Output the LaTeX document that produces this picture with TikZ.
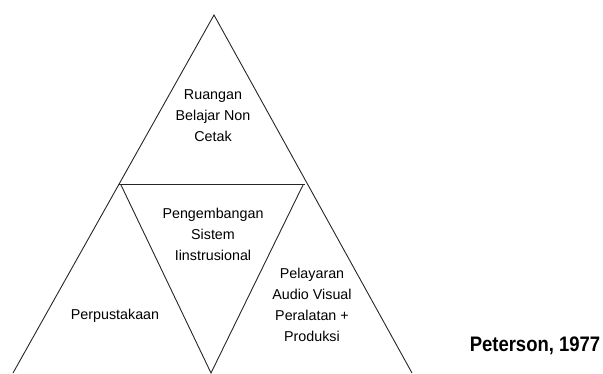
\documentclass[tikz,border=0pt]{standalone}
\usepackage{fontspec}
\setmainfont{Liberation Sans}
\newfontfamily\narrowfont[FakeStretch=0.88]{Liberation Sans}
\usepackage{tikz}
\tikzset{%
  edge/.style   = {draw=black!85, line width=0.9pt},%
  area/.style   = {align=center, inner sep=0pt,%
                   font=\fontsize{14.3}{21}\selectfont},%
  source/.style = {inner sep=0pt, font=\narrowfont\fontsize{21}{22}\selectfont\bfseries}%
}
\begin{document}
\begin{tikzpicture}[x=1pt,y=-1pt]
	\useasboundingbox (0,0) rectangle (603,374);
	% corners
	\coordinate (apex) at (214,15);
	\coordinate (bl) at (13,373);
	\coordinate (bm) at (211,373);
	\coordinate (br) at (412,373);
	\coordinate (ml) at (119,184);
	\coordinate (mr) at (305,184);
	\coordinate (il) at (121,185);
	\coordinate (ir) at (303,185);
	\draw[edge] (bl) -- (apex) -- (br);
	\draw[edge] (ml) -- (mr);
	\draw[edge] (il) -- (bm) -- (ir);
	% fields
	\node[area] (nonprint) at (213,116) {Ruangan\\Belajar Non\\Cetak};
	\node[area] (system) at (213,234) {Pengembangan\\Sistem\\Iinstrusional};
	\node[area] (library) at (115,316) {Perpustakaan};
	\node[area] (media) at (312,305) {Pelayaran\\Audio Visual\\Peralatan +\\Produksi};
	\node[source] (ref) at (535,346) {Peterson, 1977};
\end{tikzpicture}
\end{document}
